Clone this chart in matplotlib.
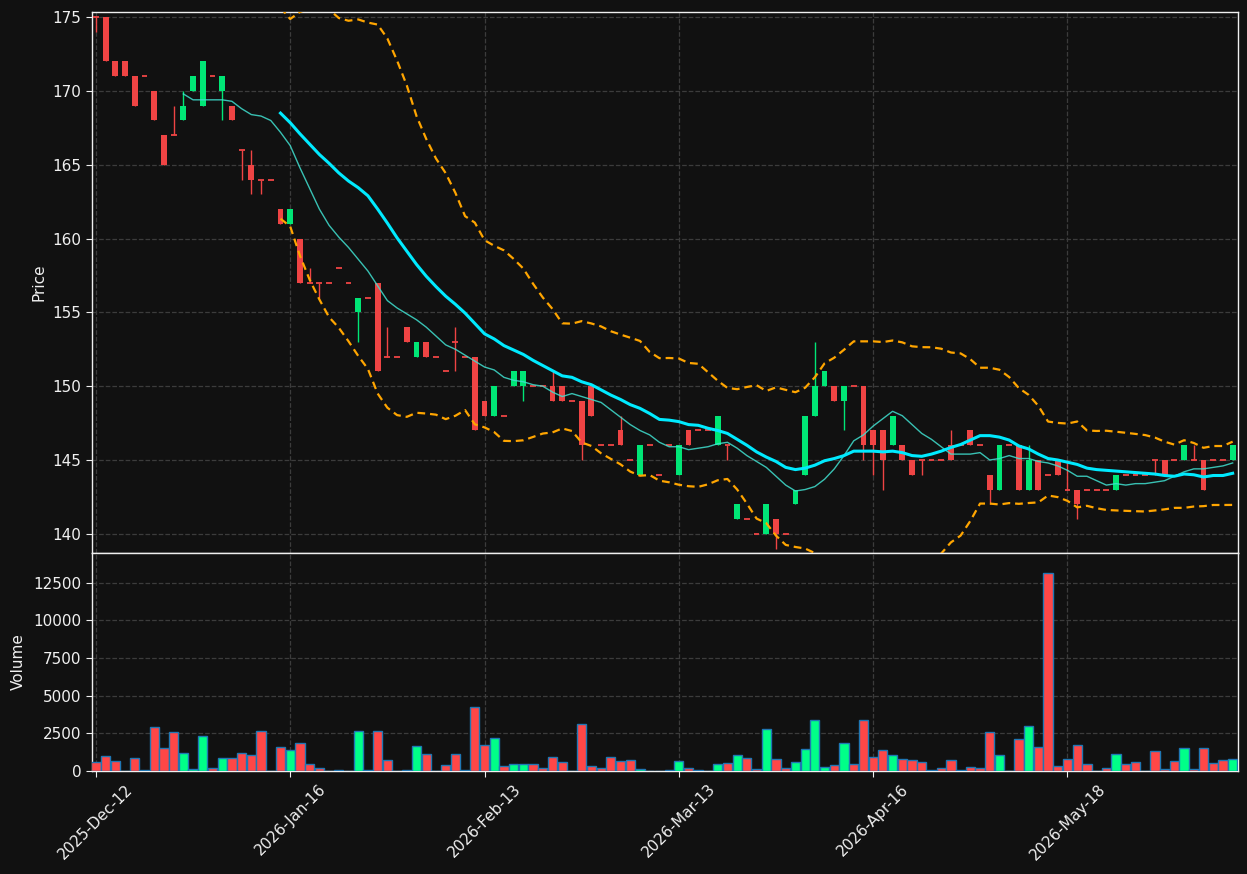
import numpy as np
import pandas as pd
import matplotlib
matplotlib.use("Agg")
import matplotlib.pyplot as plt

# ---------------- data ----------------
opens = [175, 175, 172, 172, 171, 171, 170, 167, 167, 168,
         170, 169, 171, 170, 169, 166, 165, 164, 164, 162,
         161, 160, 157, 157, 157, 158, 157, 155, 156, 157,
         152, 152, 154, 152, 153, 152, 151, 153, 152, 152,
         149, 148, 148, 150, 150, 150, 150, 150, 150, 149,
         149, 150, 146, 146, 147, 145, 144, 146, 144, 146,
         144, 147, 147, 147, 146, 146, 141, 141, 140, 140,
         141, 140, 142, 144, 148, 150, 150, 149, 150, 150,
         147, 147, 146, 146, 145, 145, 145, 145, 146, 146,
         147, 146, 144, 143, 146, 146, 143, 145, 144, 145,
         143, 143, 143, 143, 143, 143, 144, 144, 144, 145,
         145, 145, 145, 145, 145, 145, 145, 145]
highs = [175, 175, 172, 172, 171, 171, 170, 167, 169, 170,
         171, 172, 171, 171, 169, 166, 166, 164, 164, 162,
         162, 160, 158, 157, 157, 158, 157, 156, 156, 157,
         154, 152, 154, 153, 153, 152, 151, 154, 152, 152,
         149, 150, 148, 151, 151, 150, 150, 151, 150, 149,
         149, 150, 146, 146, 148, 145, 146, 146, 144, 146,
         146, 147, 147, 147, 148, 146, 142, 141, 140, 142,
         141, 140, 143, 148, 153, 151, 150, 150, 150, 150,
         147, 147, 148, 146, 145, 145, 145, 145, 147, 146,
         147, 146, 144, 146, 146, 146, 146, 145, 144, 145,
         145, 143, 143, 143, 143, 144, 144, 144, 144, 145,
         145, 145, 146, 146, 145, 145, 145, 146]
lows = [174, 172, 171, 171, 169, 171, 168, 165, 167, 168,
        170, 169, 171, 168, 168, 164, 163, 163, 164, 161,
        161, 157, 157, 156, 157, 158, 157, 153, 156, 151,
        152, 152, 153, 152, 152, 152, 151, 151, 152, 147,
        148, 148, 148, 150, 149, 150, 150, 149, 149, 149,
        145, 148, 146, 146, 146, 145, 144, 146, 144, 146,
        144, 146, 147, 147, 146, 145, 141, 141, 140, 140,
        139, 140, 142, 144, 148, 150, 149, 147, 150, 145,
        144, 143, 146, 145, 144, 144, 145, 145, 145, 146,
        146, 146, 142, 143, 146, 143, 143, 143, 144, 144,
        143, 141, 143, 143, 143, 143, 144, 144, 144, 144,
        144, 145, 145, 145, 143, 145, 145, 145]
closes = [175, 172, 171, 171, 169, 171, 168, 165, 167, 169,
          171, 172, 171, 171, 168, 166, 164, 164, 164, 161,
          162, 157, 157, 157, 157, 158, 157, 156, 156, 151,
          152, 152, 153, 153, 152, 152, 151, 153, 152, 147,
          148, 150, 148, 151, 151, 150, 150, 149, 149, 149,
          146, 148, 146, 146, 146, 145, 146, 146, 144, 146,
          146, 146, 147, 147, 148, 146, 142, 141, 140, 142,
          140, 140, 143, 148, 150, 151, 149, 150, 150, 146,
          146, 145, 148, 145, 144, 145, 145, 145, 145, 146,
          146, 146, 143, 146, 146, 143, 145, 143, 144, 144,
          143, 142, 143, 143, 143, 144, 144, 144, 144, 145,
          144, 145, 146, 145, 143, 145, 145, 146]
volumes = [580, 980, 650, 0, 850, 40, 2920, 1520, 2590, 1180,
           110, 2320, 180, 850, 850, 1180, 1050, 2650, 0, 1580,
           1380, 1850, 450, 180, 0, 40, 0, 2650, 40, 2650,
           710, 0, 40, 1650, 1120, 0, 380, 1120, 40, 4260,
           1720, 2190, 310, 450, 450, 450, 180, 910, 580, 30,
           3120, 310, 180, 910, 650, 710, 110, 0, 0, 40,
           650, 180, 40, 0, 450, 510, 1050, 850, 110, 2790,
           780, 180, 580, 1450, 3390, 250, 380, 1850, 450, 3390,
           910, 1380, 1050, 780, 710, 580, 40, 180, 710, 40,
           250, 180, 2590, 1050, 0, 2120, 2990, 1580, 13160, 310,
           780, 1720, 450, 0, 180, 1120, 450, 580, 0, 1320,
           110, 650, 1520, 110, 1520, 510, 710, 780]
tick_labels = ["2025-Dec-12", "2026-Jan-16", "2026-Feb-13",
               "2026-Mar-13", "2026-Apr-16", "2026-May-18"]
tick_every = 20

# ---------------- style ----------------
BG = "#111111"
UP = "#00e676"
DOWN = "#ef4444"
VUP = "#00ff88"
VDOWN = "#ff4747"
GRID = "#3c3c3c"
FG = "#f0f0f0"

df = pd.DataFrame({"o": opens, "h": highs, "l": lows, "c": closes, "v": volumes})
n = len(df)
x = np.arange(n)
ma10 = df["c"].rolling(10).mean()
ma20 = df["c"].rolling(20).mean()
sd20 = df["c"].rolling(20).std()
bb_up = ma20 + 2 * sd20
bb_lo = ma20 - 2 * sd20

fig = plt.figure(figsize=(12.47, 8.74), dpi=100, facecolor=BG)
L, R = 92 / 1247, 1238 / 1247
ax = fig.add_axes([L, 1 - 553 / 874, R - L, (553 - 12) / 874])
axv = fig.add_axes([L, 1 - 771 / 874, R - L, (771 - 553) / 874], sharex=ax)

for a in (ax, axv):
    a.set_facecolor(BG)
    for s in a.spines.values():
        s.set_color(FG)
        s.set_linewidth(1.0)
    a.tick_params(colors=FG, labelsize=11, length=4)
    a.grid(True, color=GRID, linestyle="--", linewidth=0.9)
    a.set_axisbelow(True)

up = df["c"] > df["o"]
cols = np.where(up, UP, DOWN)

# wicks
ax.vlines(x, df["l"], df["h"], colors=cols, linewidth=1.0, zorder=2)
# bodies
body = (df["c"] - df["o"]).values
nz = body != 0
ax.bar(x[nz], body[nz], bottom=df["o"].values[nz], width=0.6,
       color=cols[nz], linewidth=0, zorder=3)
# doji
ax.hlines(df["c"].values[~nz], x[~nz] - 0.3, x[~nz] + 0.3,
          colors=cols[~nz], linewidth=1.3, zorder=3)

# indicators
ax.plot(x, ma10, color="#40e0d0", linewidth=1.0, alpha=0.85, zorder=4)
ax.plot(x, ma20, color="#00eaff", linewidth=2.2, zorder=4)
ax.plot(x, bb_up, color="#ffa500", linewidth=1.6, linestyle=(0, (3.5, 2.2)), zorder=4)
ax.plot(x, bb_lo, color="#ffa500", linewidth=1.6, linestyle=(0, (3.5, 2.2)), zorder=4)

ax.set_ylim(138.7, 175.35)
ax.set_yticks([140, 145, 150, 155, 160, 165, 170, 175])
ax.set_ylabel("Price", color=FG, fontsize=11)
ax.tick_params(axis="x", labelbottom=False)

vcols = np.where(up, VUP, VDOWN)
axv.bar(x, df["v"], width=0.95, color=vcols, edgecolor="#1f77b4",
        linewidth=1.0, zorder=3)
axv.set_ylim(0, 14476)
axv.set_yticks([0, 2500, 5000, 7500, 10000, 12500])
axv.set_ylabel("Volume", color=FG, fontsize=11)

axv.set_xlim(-0.4, n - 1 + 0.55)
tpos = np.arange(0, n, tick_every)[:len(tick_labels)]
axv.set_xticks(tpos)
axv.set_xticklabels(tick_labels, rotation=45, ha="center",
                    fontsize=11, color=FG)

ax.yaxis.set_label_coords(-0.040, 0.5)
axv.yaxis.set_label_coords(-0.058, 0.5)

fig.savefig("out.png", dpi=100, facecolor=BG)
